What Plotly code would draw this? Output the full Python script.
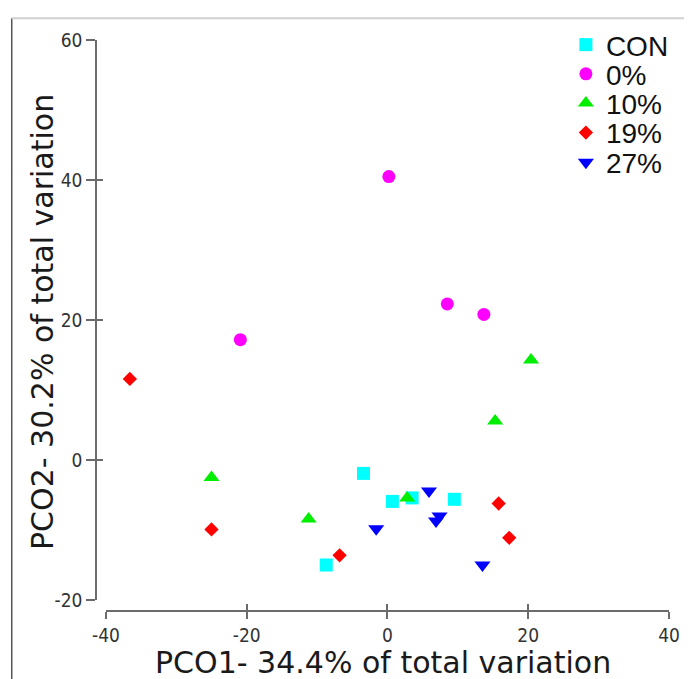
import plotly.graph_objects as go

# ---- data ----
groups = ["CON", "0%", "10%", "19%", "27%"]
con_x = [-3.4, 0.7, 3.5, 9.5, -8.7]
con_y = [-1.9, -5.9, -5.4, -5.6, -15.0]
p0_x = [0.2, 8.5, 13.7, -20.9]
p0_y = [40.5, 22.3, 20.8, 17.2]
p10_x = [20.4, 15.3, -25.0, -11.2, 2.8]
p10_y = [14.3, 5.6, -2.5, -8.4, -5.4]
p19_x = [-36.6, -25.0, -6.8, 15.8, 17.3]
p19_y = [11.6, -9.9, -13.6, -6.2, -11.1]
p27_x = [5.9, -1.6, 7.4, 6.9, 13.5]
p27_y = [-4.4, -9.8, -8.0, -8.7, -15.0]
x_ticks = [-40, -20, 0, 20, 40]
x_tick_labels = ["-40", "-20", "0", "20", "40"]
y_ticks = [-20, 0, 20, 40, 60]
y_tick_labels = ["-20", "0", "20", "40", "60"]
x_title = "PCO1- 34.4% of total variation"
y_title = "PCO2- 30.2% of total variation"

series = [
    (groups[0], con_x, con_y, "square", "#00FFFF", 13),
    (groups[1], p0_x, p0_y, "circle", "#FF00FF", 13),
    (groups[2], p10_x, p10_y, "triangle-up", "#00EE00", 14),
    (groups[3], p19_x, p19_y, "diamond", "#FF0000", 11),
    (groups[4], p27_x, p27_y, "triangle-down", "#0000FF", 14),
]

fig = go.Figure()
legend_names = ["legend", "legend2", "legend3", "legend4", "legend5"]
for (name, xs, ys, sym, col, sz), lg in zip(series, legend_names):
    fig.add_trace(go.Scatter(
        x=xs, y=ys, mode="markers", name=name, legend=lg,
        marker=dict(symbol=sym, color=col, size=sz, line=dict(width=0)),
    ))

# helper trace so the second (tick-only) axes exist
fig.add_trace(go.Scatter(x=[None], y=[None], xaxis="x2", yaxis="y2",
                         showlegend=False, hoverinfo="skip"))

OFF = 8  # default page body margin
W, H = 692 - OFF, 679 - OFF
ml, mr, mt, mb = 96 - OFF, 18, 33 - OFF, 68
pw = W - ml - mr
ph = H - mt - mb


def pxx(p):
    return (p - OFF - ml) / pw


def pxy(p):
    return (H - mb - (p - OFF)) / ph


xdom0 = (106 - 96) / pw
ydom0 = (611 - 600) / ph

axcol = "#6b6b6b"
tickfont = dict(family="Liberation Sans Narrow, Arial Narrow, DejaVu Sans Condensed, sans-serif",
                size=19, color="#333333")
titlefont = dict(family="DejaVu Sans, Verdana, sans-serif", size=30, color="#1a1a1a")

common = dict(showgrid=False, zeroline=False, tickwidth=1.5, tickcolor=axcol,
              linecolor=axcol, linewidth=1.5)

fig.update_layout(
    width=W, height=H,
    margin=dict(l=ml, r=mr, t=mt, b=mb),
    paper_bgcolor="white", plot_bgcolor="white",
    xaxis=dict(range=[-40, 40], domain=[xdom0, 1], anchor="free", position=0,
               showline=True, ticks="outside", ticklen=7, tickvals=x_ticks,
               ticktext=x_tick_labels, tickfont=tickfont, **common),
    yaxis=dict(range=[-20, 60], domain=[ydom0, 1], anchor="free", position=0,
               showline=True, ticks="outside", ticklen=9, tickvals=y_ticks,
               ticktext=y_tick_labels, tickfont=tickfont, **common),
    xaxis2=dict(range=[-40, 40], domain=[xdom0, 1], anchor="free", position=0,
                overlaying="x", showline=False, ticks="inside", ticklen=7,
                tickvals=x_ticks, showticklabels=False, **common),
    yaxis2=dict(range=[-20, 60], domain=[ydom0, 1], anchor="free", position=0,
                overlaying="y", showline=False, ticks="inside", ticklen=6,
                tickvals=y_ticks, showticklabels=False, **common),
    shapes=[
        dict(type="line", xref="paper", yref="paper",
             x0=pxx(11), x1=pxx(11), y0=pxy(700), y1=pxy(11),
             line=dict(color="#555555", width=1.5)),
        dict(type="line", xref="paper", yref="paper",
             x0=pxx(11), x1=pxx(700), y0=pxy(11), y1=pxy(11),
             line=dict(color="#d0d0d0", width=2)),
    ],
    annotations=[
        dict(text=x_title, xref="paper", yref="paper", x=pxx(385), y=pxy(663),
             xanchor="center", yanchor="middle", showarrow=False, font=titlefont),
        dict(text=y_title, xref="paper", yref="paper", x=pxx(42), y=pxy(318),
             xanchor="center", yanchor="middle", showarrow=False, textangle=-90,
             font=titlefont),
    ],
)

row_px = [38, 67.5, 97, 127, 157]
legfont = dict(family="Liberation Sans, Arial, sans-serif", size=28, color="#111111")
for lg, py in zip(legend_names, row_px):
    fig.update_layout({lg: dict(x=pxx(570), xanchor="left",
                                y=pxy(py), yanchor="middle",
                                font=legfont, bgcolor="rgba(0,0,0,0)",
                                borderwidth=0)})

fig.write_html("out.html")
